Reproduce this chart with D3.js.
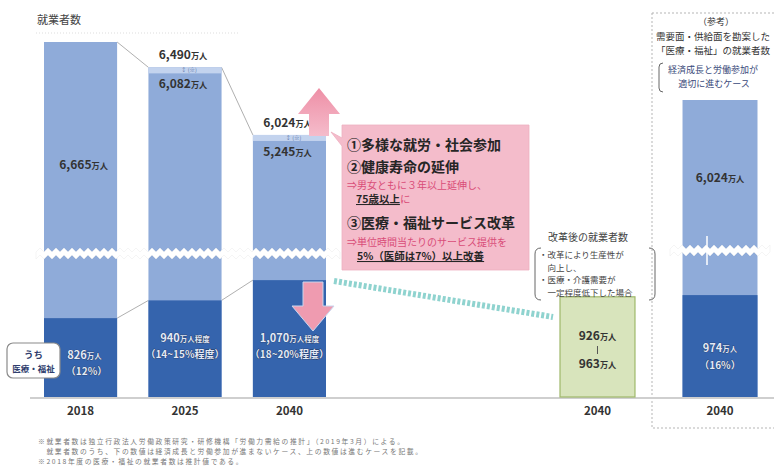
<!DOCTYPE html>
<html lang="ja">
<head>
<meta charset="utf-8">
<script src="https://cdn.jsdelivr.net/npm/d3@7"></script>
<style>
  html, body { margin: 0; padding: 0; background: #fff; }
  svg { display: block; font-family: "Noto Sans CJK JP", "Noto Sans", sans-serif; }
</style>
</head>
<body>
<svg id="chart" width="774" height="471"></svg>
<script>
// 就業者数（万人）
const years = ["2018", "2025", "2040"];
const totalLow = [6665, 6082, 5245];     // 経済成長と労働参加が進まないケース
const totalHigh = [6665, 6490, 6024];    // 進むケース
const medical = [826, 940, 1070];        // うち医療・福祉
const medicalUnit = ["万人", "万人程度", "万人程度"];
const medicalShare = ["（12%）", "（14~15%程度）", "（18~20%程度）"];
const reformRange = [926, 963];          // 改革後の就業者数
const refYears = ["改革後", "参考"];
const refTotal = [6024];
const refMedical = [974];
const refShare = ["（16%）"];

const LIGHT = "#8fabd9", DARK = "#3564ad", BASE = 397;
const svg = d3.select("#chart");

const x = d3.scaleBand().domain(years).range([44, 326]).paddingInner(0.3).paddingOuter(0);
const xR = d3.scaleBand().domain(refYears).range([560, 757.5]).paddingInner(0.388).paddingOuter(0);
const bw = x.bandwidth();
// broken axis: upper part for totals, lower part for 医療・福祉
const yUp = d3.scaleLinear().domain([5210, 6665]).range([253, 42]);
const yLow = d3.scaleLinear().domain([320, 1180]).range([BASE, 263]);
const yRefUp = d3.scaleLinear().domain([4990, 6024]).range([250, 100]);

const fmt = d3.format(",");

// reference panel frame
svg.append("rect").attr("x", 652).attr("y", 13).attr("width", 140).attr("height", 415)
  .attr("fill", "none").attr("stroke", "#b5b5b5").attr("stroke-dasharray", "2,2");

// y label
svg.append("text").attr("x", 37).attr("y", 24).attr("font-size", 11).attr("fill", "#444").text("就業者数");
svg.append("line").attr("x1", 36).attr("x2", 240).attr("y1", 33).attr("y2", 33)
  .attr("stroke", "#ddd").attr("stroke-dasharray", "1,2");

// baseline
svg.append("line").attr("x1", 30).attr("x2", 774).attr("y1", BASE + 1).attr("y2", BASE + 1)
  .attr("stroke", "#cfcfcf").attr("stroke-width", 2);

// connectors between bars
const conn = svg.append("g").attr("stroke", "#b0b0b0").attr("stroke-width", 1).attr("fill", "none");
for (let i = 0; i < years.length - 1; i++) {
  conn.append("line").attr("x1", x(years[i]) + bw).attr("y1", yUp(totalHigh[i]))
    .attr("x2", x(years[i + 1])).attr("y2", yUp(totalHigh[i + 1]));
  conn.append("line").attr("x1", x(years[i]) + bw).attr("y1", yLow(medical[i]))
    .attr("x2", x(years[i + 1])).attr("y2", yLow(medical[i + 1]));
}

// total bars
svg.append("g").selectAll("rect").data(years).join("rect")
  .attr("x", d => x(d)).attr("width", bw)
  .attr("y", (d, i) => yUp(totalHigh[i])).attr("height", (d, i) => BASE - yUp(totalHigh[i]))
  .attr("fill", LIGHT);
// range strip at the top of 2025 / 2040
svg.append("g").selectAll("rect").data(years.filter((d, i) => totalHigh[i] !== totalLow[i])).join("rect")
  .attr("x", d => x(d)).attr("width", bw)
  .attr("y", d => yUp(totalHigh[years.indexOf(d)])).attr("height", 6)
  .attr("fill", "#c3d3ee");
// medical bars
svg.append("g").selectAll("rect").data(years).join("rect")
  .attr("x", d => x(d)).attr("width", bw)
  .attr("y", (d, i) => yLow(medical[i])).attr("height", (d, i) => BASE - yLow(medical[i]))
  .attr("fill", DARK);

// reference bar
const rx = xR("参考"), rbw = xR.bandwidth();
svg.append("rect").attr("x", rx).attr("width", rbw).attr("y", yRefUp(refTotal[0]))
  .attr("height", BASE - yRefUp(refTotal[0])).attr("fill", LIGHT);
svg.append("rect").attr("x", rx).attr("width", rbw).attr("y", yLow(refMedical[0]))
  .attr("height", BASE - yLow(refMedical[0])).attr("fill", DARK);

// reform bar
const gx = xR("改革後");
svg.append("rect").attr("x", gx).attr("width", rbw).attr("y", yLow(reformRange[1]))
  .attr("height", BASE - yLow(reformRange[1])).attr("fill", "#d8e4bc").attr("stroke", "#9fb86a").attr("stroke-width", 1.2);

// axis break bands
function breakBand(x0, x1, yc) {
  const pts = [];
  const step = 4;
  for (let xx = x0, k = 0; xx <= x1; xx += step, k++) pts.push([xx, yc - 3 + (k % 2 ? -2 : 2)]);
  const bottom = pts.map(p => [p[0], p[1] + 7]).reverse();
  return d3.line()(pts.concat(bottom)) + "Z";
}
svg.append("path").attr("d", breakBand(36, 342, yUp.range()[0])).attr("fill", "#fff")
  .attr("stroke", "#eee").attr("stroke-width", 0.6);
svg.append("path").attr("d", breakBand(670, 770, yRefUp.range()[0])).attr("fill", "#fff")
  .attr("stroke", "#eee").attr("stroke-width", 0.6);
svg.append("line").attr("x1", 707).attr("x2", 707).attr("y1", 236).attr("y2", 265)
  .attr("stroke", "#fff").attr("stroke-width", 1.5);

// value labels helper
function valLabel(g, xc, y, num, unit, size, color, outline) {
  const t = g.append("text").attr("x", xc).attr("y", y).attr("text-anchor", "middle")
    .attr("font-weight", "bold").attr("fill", color);
  if (outline) t.attr("stroke", "#1f3358").attr("stroke-width", 0.7).attr("paint-order", "stroke");
  t.append("tspan").attr("font-size", size).text(num);
  t.append("tspan").attr("font-size", size * 0.68).text(unit);
  return t;
}
const labels = svg.append("g");
years.forEach((d, i) => {
  const cx = x(d) + bw / 2;
  if (totalHigh[i] === totalLow[i]) {
    valLabel(labels, cx + 3, 169, fmt(totalHigh[i]), "万人", 12, "#333");
  } else {
    const top = yUp(totalHigh[i]);
    valLabel(labels, cx - 2, top - 8, fmt(totalHigh[i]), "万人", 12, "#333");
    labels.append("text").attr("x", cx + 4).attr("y", top + 5).attr("text-anchor", "middle")
      .attr("font-size", 5.5).attr("fill", "#5a74a8").text("↕ (※)");
    valLabel(labels, cx - 2, top + 21, fmt(totalLow[i]), "万人", 12, "#333");
  }
  const my = [359, 342, 342][i];
  valLabel(labels, cx + (i === 0 ? 4 : 0), my, fmt(medical[i]), medicalUnit[i], 11, "#e3eaf7", true);
  labels.append("text").attr("x", cx + (i === 0 ? 6 : 0)).attr("y", my + 16).attr("text-anchor", "middle")
    .attr("font-size", 10).attr("font-weight", "bold").attr("fill", "#e3eaf7")
    .attr("stroke", "#1f3358").attr("stroke-width", 0.7).attr("paint-order", "stroke")
    .text(medicalShare[i]);
});
valLabel(labels, rx + rbw / 2, 182, fmt(refTotal[0]), "万人", 12, "#333");
valLabel(labels, rx + rbw / 2, 352, fmt(refMedical[0]), "万人", 11, "#e3eaf7", true);
labels.append("text").attr("x", rx + rbw / 2).attr("y", 369).attr("text-anchor", "middle")
  .attr("font-size", 10).attr("font-weight", "bold").attr("fill", "#e3eaf7")
  .attr("stroke", "#1f3358").attr("stroke-width", 0.7).attr("paint-order", "stroke").text(refShare[0]);
// reform range labels
const gcx = gx + rbw / 2;
valLabel(labels, gcx, 340, fmt(reformRange[0]), "万人", 12, "#333");
labels.append("line").attr("x1", gcx).attr("x2", gcx).attr("y1", 346).attr("y2", 354).attr("stroke", "#555");
valLabel(labels, gcx, 368, fmt(reformRange[1]), "万人", 12, "#333");

// うち医療・福祉 tag
const tag = svg.append("g");
tag.append("rect").attr("x", 7).attr("y", 343).attr("width", 53).attr("height", 35).attr("rx", 6)
  .attr("fill", "#fff").attr("stroke", "#8a8a8a").attr("stroke-width", 1.2);
tag.append("text").attr("x", 33.5).attr("y", 358).attr("text-anchor", "middle").attr("font-size", 9.5)
  .attr("font-weight", "bold").attr("fill", "#2f3e6e").text("うち");
tag.append("text").attr("x", 33.5).attr("y", 372).attr("text-anchor", "middle").attr("font-size", 8.5)
  .attr("font-weight", "bold").attr("fill", "#2f3e6e").text("医療・福祉");

// x axes
const axisG = svg.append("g").attr("transform", `translate(0,${BASE})`)
  .call(d3.axisBottom(x).tickSize(0).tickPadding(10));
const axisR = svg.append("g").attr("transform", `translate(0,${BASE})`)
  .call(d3.axisBottom(xR).tickSize(0).tickPadding(10).tickFormat(() => "2040"));
[axisG, axisR].forEach(a => {
  a.select(".domain").remove();
  a.selectAll("text").attr("font-size", 11.5).attr("font-weight", "bold").attr("fill", "#333")
    .attr("font-family", "'Noto Sans CJK JP', sans-serif");
});

// pink arrows
const grad = svg.append("defs").append("linearGradient").attr("id", "pg").attr("x1", 0).attr("x2", 0).attr("y1", 0).attr("y2", 1);
grad.append("stop").attr("offset", 0).attr("stop-color", "#ee8fa6");
grad.append("stop").attr("offset", 1).attr("stop-color", "#f5bccb");
const ax = 319;
svg.append("path").attr("d", d3.line()([[ax, 88], [ax + 21, 114], [ax + 10, 114], [ax + 10, 136], [ax - 10, 136], [ax - 10, 114], [ax - 21, 114]]) + "Z")
  .attr("fill", "url(#pg)");
const dx = 313;
svg.append("path").attr("d", d3.line()([[dx - 10, 282], [dx + 10, 282], [dx + 10, 306], [dx + 21, 306], [dx, 331], [dx - 21, 306], [dx - 10, 306]]) + "Z")
  .attr("fill", "#ef9bb0").attr("stroke", "#c9d6ee").attr("stroke-width", 1);

// teal dotted arrow towards reform bar
svg.append("line").attr("x1", 334).attr("y1", 281).attr("x2", 553).attr("y2", 317)
  .attr("stroke", "#8fd3cf").attr("stroke-width", 6).attr("stroke-dasharray", "3,2");

// measures box
const box = svg.append("g");
box.append("path").attr("d", "M342,125 H529 V270 H342 V146 L331,132 L342,138 Z")
  .attr("fill", "#f4bccb").attr("stroke", "#eeb0c0").attr("stroke-width", 0.8);
const H = "#262626", P = "#d94c78";
box.append("text").attr("x", 347).attr("y", 150).attr("font-size", 14).attr("font-weight", "bold").attr("fill", H).text("①多様な就労・社会参加");
box.append("text").attr("x", 347).attr("y", 172).attr("font-size", 14).attr("font-weight", "bold").attr("fill", H).text("②健康寿命の延伸");
box.append("text").attr("x", 347).attr("y", 189).attr("font-size", 10).attr("fill", P).text("⇒男女ともに３年以上延伸し、");
const t75 = box.append("text").attr("x", 356).attr("y", 203).attr("font-size", 10.5).attr("fill", H);
t75.append("tspan").attr("font-weight", "bold").attr("text-decoration", "underline").text("75歳以上");
t75.append("tspan").attr("fill", P).text("に");
box.append("text").attr("x", 347).attr("y", 228).attr("font-size", 14).attr("font-weight", "bold").attr("fill", H).text("③医療・福祉サービス改革");
box.append("text").attr("x", 347).attr("y", 246).attr("font-size", 10).attr("fill", P).text("⇒単位時間当たりのサービス提供を");
box.append("text").attr("x", 357).attr("y", 260).attr("font-size", 10.5).attr("font-weight", "bold").attr("fill", H)
  .attr("text-decoration", "underline").text("5%（医師は7%）以上改善");

// reform note
const note = svg.append("g").attr("fill", "#444");
note.append("text").attr("x", 588).attr("y", 241).attr("text-anchor", "middle").attr("font-size", 10).text("改革後の就業者数");
note.append("path").attr("d", "M541,248 Q535,248 535,254 V294 Q535,300 541,300 M649,248 Q655,248 655,254 V294 Q655,300 649,300")
  .attr("fill", "none").attr("stroke", "#666").attr("stroke-width", 1);
[["・改革により生産性が", 258], ["　向上し、", 270.5], ["・医療・介護需要が", 283], ["　一定程度低下した場合", 295.5]].forEach(([s, yy]) =>
  note.append("text").attr("x", 539).attr("y", yy).attr("font-size", 8.5).text(s));

// reference panel heading
const ref = svg.append("g").attr("fill", "#333");
ref.append("text").attr("x", 716).attr("y", 25).attr("text-anchor", "middle").attr("font-size", 9).text("（参考）");
ref.append("text").attr("x", 656).attr("y", 40).attr("font-size", 9.5).text("需要面・供給面を勘案した");
ref.append("text").attr("x", 656).attr("y", 54).attr("font-size", 9.5).text("「医療・福祉」の就業者数");
ref.append("path").attr("d", "M663,63 Q659,63 659,67 V88 Q659,92 663,92").attr("fill", "none").attr("stroke", "#666");
ref.append("text").attr("x", 668).attr("y", 73).attr("font-size", 9).attr("fill", "#3a4a7a").text("経済成長と労働参加が");
ref.append("text").attr("x", 714).attr("y", 87).attr("text-anchor", "middle").attr("font-size", 9).attr("fill", "#3a4a7a").text("適切に進むケース");

// footnotes
const foot = svg.append("g").attr("fill", "#777").attr("font-size", 6.8).attr("letter-spacing", 1.6);
foot.append("text").attr("x", 38).attr("y", 444).text("※就業者数は独立行政法人労働政策研究・研修機構「労働力需給の推計」（2019年3月）による。");
foot.append("text").attr("x", 38).attr("y", 454).text("　就業者数のうち、下の数値は経済成長と労働参加が進まないケース、上の数値は進むケースを記載。");
foot.append("text").attr("x", 38).attr("y", 464).text("※2018年度の医療・福祉の就業者数は推計値である。");
</script>
</body>
</html>
